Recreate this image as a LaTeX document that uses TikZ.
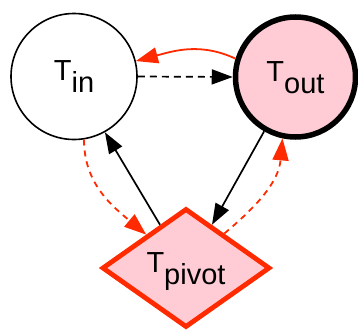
\documentclass[tikz,border=0pt]{standalone}
\usepackage{fontspec}
\setmainfont{Liberation Sans}
\usetikzlibrary{shapes.geometric}
\usetikzlibrary{arrows.meta}

\definecolor{pivotred}{RGB}{255,42,0}
\definecolor{pivotpink}{RGB}{255,204,213}

\tikzset{
  tlabel/.style={font=\fontsize{29}{30}\selectfont, text height=21pt, text depth=13pt, inner sep=0pt},
  blackarrow/.style={-{Triangle[length=21pt,width=15pt]}, line width=1.7pt},
  redarrow/.style={-{Triangle[length=22pt,width=16pt]}, draw=pivotred, line width=1.8pt},
  reddash/.style={redarrow, dash pattern=on 6pt off 5pt},
}

\newcommand{\tsub}[1]{T\raisebox{-12pt}{#1}}

\begin{document}
\begin{tikzpicture}[x=1pt,y=1pt,yscale=-1,xscale=1]
\useasboundingbox (0,0) rectangle (358,332);

% the three nodes
\node [tlabel, circle, draw, line width=1.6pt, minimum size=126pt] (tin) at (74,76.5) {\tsub{in}};
\node [tlabel, circle, draw, fill=pivotpink, line width=5.5pt, minimum size=120pt] (tout) at (295.5,77) {\tsub{out}};
\node [tlabel, diamond, aspect=1.4, draw=pivotred, fill=pivotpink, line width=4.8pt, minimum width=168pt, minimum height=119pt] (pivot) at (186,268) {\tsub{pivot}};

% black connectors
\draw [blackarrow, dash pattern=on 7pt off 5pt] (tin.0) -- (tout.180);
\draw [blackarrow] (pivot.121) -- (tin.-61);
\draw [blackarrow] (tout.-120) -- (pivot.59);

% red connectors (angles in picture coordinates, y down)
\draw [redarrow] (tout.163) to[out=-155, in=-15] (tin.14);
\draw [reddash] (tin.-81) to[out=90, in=-140] (pivot.140);
\draw [reddash] (pivot.42) to[out=-40, in=95] (tout.-102);

\end{tikzpicture}
\end{document}
